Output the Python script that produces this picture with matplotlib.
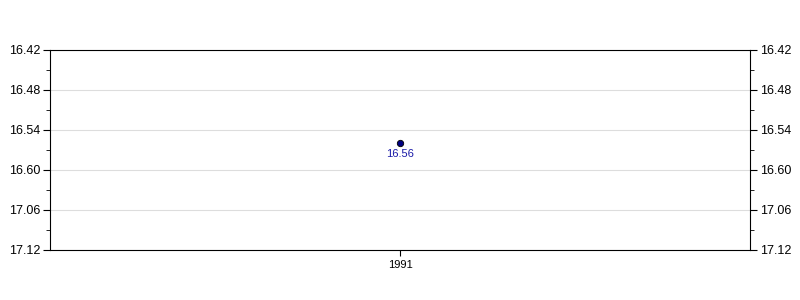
import matplotlib
matplotlib.use("Agg")
import matplotlib.pyplot as plt
from matplotlib.ticker import FixedLocator, MultipleLocator

plt.rcParams['font.family'] = ['Liberation Sans', 'DejaVu Sans']

# data
years = ['1991']
times = ['16.56']          # min.sec
tick_labels = ['16.42', '16.48', '16.54', '16.60', '17.06', '17.12']


def to_sec(t):
    m, s = t.split('.')
    return int(m) * 60 + int(s)


secs = [to_sec(t) for t in times]
tick_secs = [1002 + 6 * i for i in range(len(tick_labels))]

fig = plt.figure(figsize=(8, 3), dpi=100)
ax = fig.add_axes([50 / 800, 50 / 300, 700 / 800, 200 / 300])

x = list(range(len(years)))
ax.plot(x, secs, 'o', color='#000080', markeredgecolor='black',
        markeredgewidth=0.6, markersize=4.6, zorder=3)
for xi, yi, t in zip(x, secs, times):
    ax.annotate(t, (xi, yi), xytext=(0, -4), textcoords='offset points',
                ha='center', va='top', color='#1a1aa8', fontsize=8)

ax.set_xlim(-1, 1)
ax.set_xticks(x)
ax.set_xticklabels(years)

ax.set_ylim(tick_secs[-1], tick_secs[0])
ax.yaxis.set_major_locator(FixedLocator(tick_secs))
ax.set_yticklabels(tick_labels)
ax.yaxis.set_minor_locator(MultipleLocator(3))
ax.tick_params(axis='y', which='both', left=True, right=True,
               labelleft=True, labelright=True, direction='out')
ax.tick_params(axis='y', which='major', length=5, labelsize=9, pad=2)
ax.tick_params(axis='y', which='minor', length=3)
ax.tick_params(axis='x', length=4, labelsize=8, pad=3)

ax.grid(axis='y', color='#dddddd', linewidth=0.8)
ax.set_axisbelow(True)
for s in ax.spines.values():
    s.set_linewidth(0.8)

fig.savefig('out.png', dpi=100)
